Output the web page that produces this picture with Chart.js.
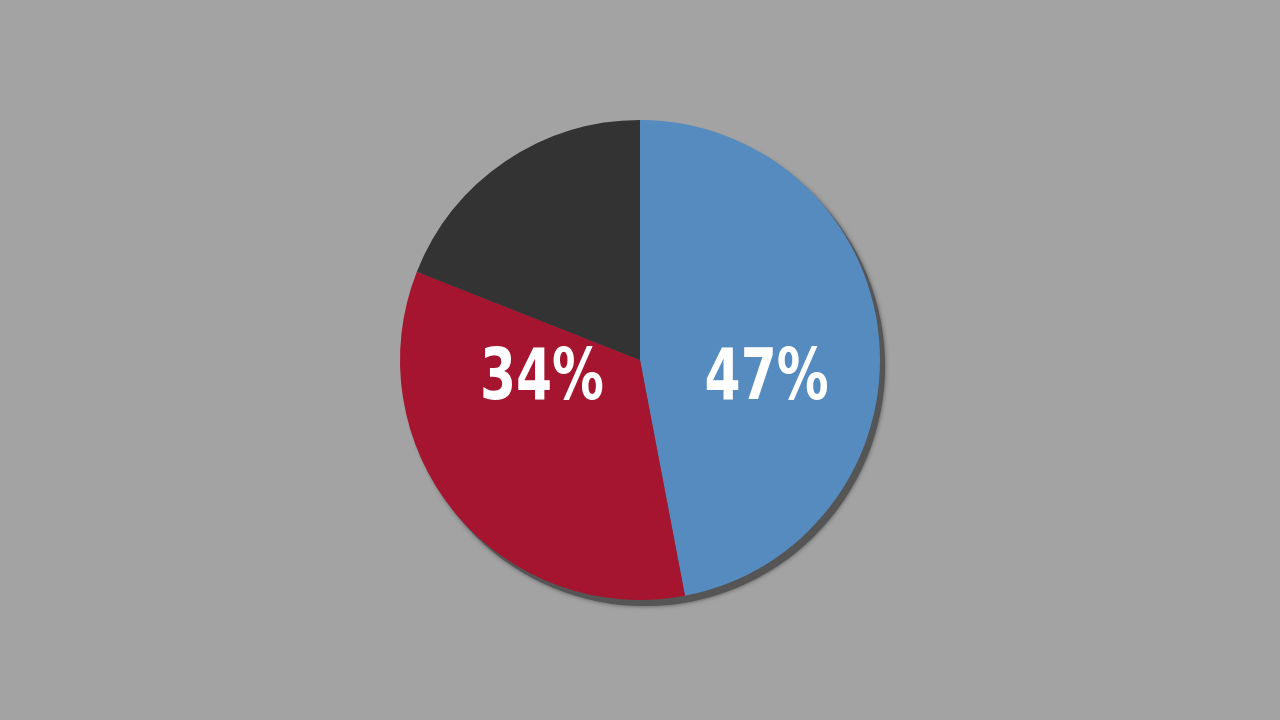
<html>
<head>
    <title>Pie</title>
    <style>
        html, body { margin: 0; padding: 0; background: #a3a3a3; overflow: hidden; }
    </style>
</head>
<body>
<div style="width: 1280px; height: 720px">
    <canvas id="pie" width="1280" height="720"></canvas>
</div>

<script src="https://cdn.jsdelivr.net/npm/chart.js"></script>
<script>
    // slice data, clockwise from 12 o'clock
    const categories = ['Blue', 'Red', 'Dark']
    const shares = [47, 34, 19]
    const sliceLabels = ['47%', '34%', '']
    const sliceColors = ['#558bbe', '#a61530', '#333333']

    // soft drop shadow under the whole pie
    const pieShadow = {
        id: 'pieShadow',
        beforeDatasetsDraw(chart) {
            const arc = chart.getDatasetMeta(0).data[0]
            const ctx = chart.ctx
            ctx.save()
            ctx.shadowColor = 'rgba(70,70,70,0.9)'
            ctx.shadowBlur = 4
            ctx.fillStyle = '#555555'
            ctx.beginPath()
            ctx.arc(arc.x + 5, arc.y + 6, arc.outerRadius, 0, Math.PI * 2)
            ctx.fill()
            ctx.restore()
        }
    }

    // big white percentages, squeezed to look like a narrow display face
    const pieLabels = {
        id: 'pieLabels',
        afterDatasetsDraw(chart) {
            const ctx = chart.ctx
            ctx.save()
            ctx.fillStyle = '#ffffff'
            ctx.textAlign = 'center'
            ctx.textBaseline = 'alphabetic'
            ctx.font = 'bold 72px "DejaVu Sans Condensed", "DejaVu Sans", sans-serif'
            chart.getDatasetMeta(0).data.forEach((arc, i) => {
                if (!sliceLabels[i]) return
                const mid = (arc.startAngle + arc.endAngle) / 2
                const x = arc.x + Math.cos(mid) * arc.outerRadius * 0.53
                const y = arc.y + arc.outerRadius * 0.1625
                ctx.save()
                ctx.translate(x, y)
                ctx.scale(0.8, 1)
                ctx.fillText(sliceLabels[i], 0, 0)
                ctx.restore()
            })
            ctx.restore()
        }
    }

    new Chart(document.getElementById('pie'), {
        type: 'pie',
        data: {
            labels: categories,
            datasets: [{
                data: shares,
                backgroundColor: sliceColors,
                borderWidth: 0
            }]
        },
        options: {
            responsive: false,
            animation: false,
            layout: { padding: { top: 120, bottom: 120 } },
            plugins: {
                legend: { display: false },
                tooltip: { enabled: false }
            }
        },
        plugins: [pieShadow, pieLabels]
    });
</script>
</body>
</html>
